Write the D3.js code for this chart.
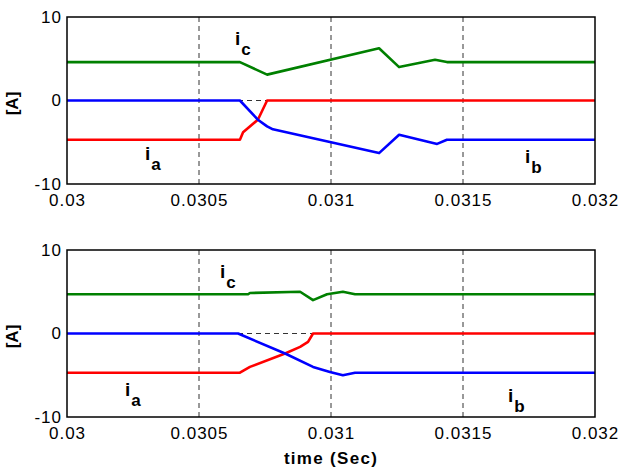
<!DOCTYPE html>
<html>
<head>
<meta charset="utf-8">
<script src="https://cdn.jsdelivr.net/npm/d3@7"></script>
<style>
	body { margin: 0; background: #fff; }
	svg text { font-family: "Liberation Sans", Arial, sans-serif; }
</style>
</head>
<body>
<div id="chart"></div>
<script>
// x ticks shared by both panels
var xTicks = [0.03, 0.0305, 0.031, 0.0315, 0.032];
var xTickLabels = ["0.03", "0.0305", "0.031", "0.0315", "0.032"];
var yTicks = [-10, 0, 10];
var yTickLabels = ["-10", "0", "10"];

// top panel, [time, current]
var topIa = [[0.03, -4.7], [0.030655, -4.7], [0.030667, -3.8], [0.030723, -2.3], [0.030758, 0], [0.032, 0]];
var topIb = [[0.03, 0], [0.030655, 0], [0.030723, -2.3], [0.030758, -3.1], [0.03078, -3.45], [0.031182, -6.3],
	[0.031258, -4.1], [0.031402, -5.2], [0.031439, -4.7], [0.032, -4.7]];
var topIc = [[0.03, 4.6], [0.030655, 4.6], [0.030758, 3.1], [0.031182, 6.26], [0.031258, 4.0],
	[0.031394, 4.87], [0.031439, 4.6], [0.032, 4.6]];

// bottom panel, [time, current]
var botIa = [[0.03, -4.7], [0.030655, -4.7], [0.030693, -4.0], [0.030826, -2.4], [0.030883, -1.6],
	[0.030913, -1.0], [0.030932, 0], [0.032, 0]];
var botIb = [[0.03, 0], [0.030648, 0], [0.030826, -2.4], [0.030932, -4.0], [0.030996, -4.6],
	[0.031045, -5.0], [0.031091, -4.7], [0.032, -4.7]];
var botIc = [[0.03, 4.7], [0.030686, 4.7], [0.030693, 4.85], [0.030883, 5.0], [0.030932, 4.0],
	[0.030985, 4.7], [0.031045, 5.0], [0.031091, 4.7], [0.032, 4.7]];

(function () {
'use strict';

	var width = 630, height = 476;
	var svg = d3.select("#chart").append("svg")
		.attr("width", width)
		.attr("height", height);

	var panels = [
		{ top: 17, ia: topIa, ib: topIb, ic: topIc,
			labels: { ic: [235, 45], ia: [145, 160], ib: [525, 163] } },
		{ top: 250, ia: botIa, ib: botIb, ic: botIc,
			labels: { ic: [220, 278], ia: [125, 396], ib: [508, 402] } }
	];

	var left = 67, right = 595, plotH = 167;

	var x = d3.scaleLinear().domain([0.03, 0.032]).range([left, right]);

	var drawPanel = function(p){
		var y = d3.scaleLinear().domain([-10, 10]).range([p.top + plotH, p.top]);
		var g = svg.append("g");

		// dashed grid
		g.selectAll(".vgrid").data(xTicks.slice(1, -1)).enter()
			.append("line")
				.attr("x1", function(d){ return x(d); })
				.attr("x2", function(d){ return x(d); })
				.attr("y1", y(10))
				.attr("y2", y(-10))
				.attr("stroke", "#333")
				.attr("stroke-width", 1)
				.attr("stroke-dasharray", "5,4");
		g.append("line")
			.attr("x1", x(0.03)).attr("x2", x(0.032))
			.attr("y1", y(0)).attr("y2", y(0))
			.attr("stroke", "#333")
			.attr("stroke-width", 1)
			.attr("stroke-dasharray", "5,4");

		var line = d3.line()
			.x(function(d){ return x(d[0]); })
			.y(function(d){ return y(d[1]); });

		var series = [[p.ic, "#008000"], [p.ia, "#ff0000"], [p.ib, "#0000ff"]];
		series.forEach(function(s){
			g.append("path")
				.datum(s[0])
				.attr("d", line)
				.attr("fill", "none")
				.attr("stroke", s[1])
				.attr("stroke-width", 2.6)
				.attr("stroke-linejoin", "round");
		});

		// axes
		var xAxis = d3.axisBottom(x).tickValues(xTicks)
			.tickFormat(function(d, i){ return xTickLabels[i]; })
			.tickSize(0).tickPadding(10);
		var yAxis = d3.axisLeft(y).tickValues(yTicks)
			.tickFormat(function(d, i){ return yTickLabels[i]; })
			.tickSize(0).tickPadding(5);

		var gx = g.append("g").attr("transform", "translate(0," + y(-10) + ")").call(xAxis);
		var gy = g.append("g").attr("transform", "translate(" + left + ",0)").call(yAxis);
		[gx, gy].forEach(function(a){
			a.selectAll("text").attr("font-size", "17px").attr("fill", "#000")
				.attr("letter-spacing", "1px")
				.attr("font-family", "'Liberation Sans', Arial, sans-serif");
			a.select(".domain").remove();
		});

		// box
		g.append("rect")
			.attr("x", left).attr("y", p.top)
			.attr("width", right - left).attr("height", plotH)
			.attr("fill", "none")
			.attr("stroke", "#000")
			.attr("stroke-width", 1.5);

		// y label
		g.append("text")
			.attr("transform", "translate(18," + (y(0) + 3) + ") rotate(-90)")
			.attr("text-anchor", "middle")
			.attr("font-size", "17px")
			.attr("font-weight", "bold")
			.text("[A]");

		// current names
		["ia", "ib", "ic"].forEach(function(k){
			var pos = p.labels[k];
			var t = g.append("text")
				.attr("x", pos[0]).attr("y", pos[1])
				.attr("font-size", "19px")
				.attr("font-weight", "bold");
			t.append("tspan").text("i");
			t.append("tspan").attr("dy", 10).attr("dx", 1).attr("font-size", "17px").text(k.charAt(1));
		});
	};

	panels.forEach(drawPanel);

	svg.append("text")
		.attr("x", x(0.031))
		.attr("y", 464)
		.attr("text-anchor", "middle")
		.attr("font-size", "17px")
		.attr("font-weight", "bold")
		.attr("letter-spacing", "1.3px")
		.text("time (Sec)");

	console.log("[chart] drawn");
}());
</script>
</body>
</html>
